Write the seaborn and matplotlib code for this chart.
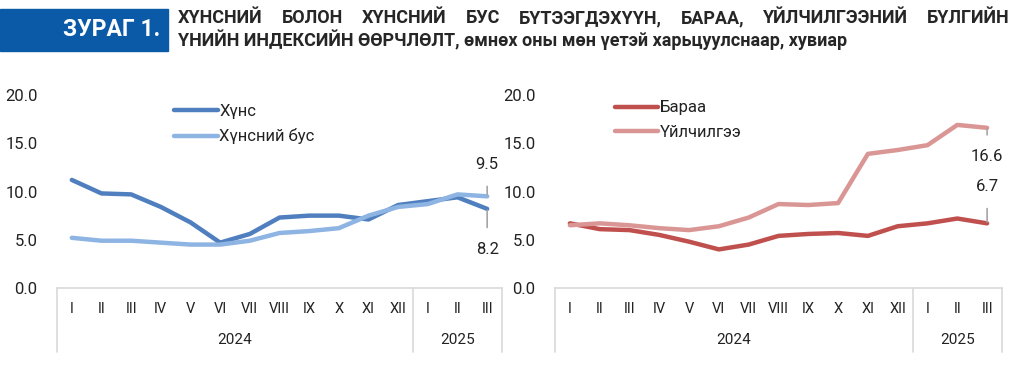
import pandas as pd
import matplotlib
matplotlib.use('Agg')
import matplotlib.pyplot as plt
import matplotlib.patches as patches
import seaborn as sns

months = ['I', 'II', 'III', 'IV', 'V', 'VI', 'VII', 'VIII', 'IX', 'X', 'XI', 'XII', 'I', 'II', 'III']
years = ['2024', '2025']
year_counts = [12, 3]

food = [11.2, 9.8, 9.7, 8.4, 6.8, 4.7, 5.6, 7.3, 7.5, 7.5, 7.1, 8.6, 9.0, 9.4, 8.2]
nonfood = [5.2, 4.9, 4.9, 4.7, 4.5, 4.5, 4.9, 5.7, 5.9, 6.2, 7.5, 8.4, 8.7, 9.7, 9.5]
goods = [6.7, 6.1, 6.0, 5.5, 4.8, 4.0, 4.5, 5.4, 5.6, 5.7, 5.4, 6.4, 6.7, 7.2, 6.7]
services = [6.5, 6.7, 6.5, 6.2, 6.0, 6.4, 7.3, 8.7, 8.6, 8.8, 13.9, 14.3, 14.8, 16.9, 16.6]

left_names = ['Хүнс', 'Хүнсний бус']
right_names = ['Бараа', 'Үйлчилгээ']
left_colors = ['#4f7fbe', '#8db4e2']
right_colors = ['#c0504d', '#da9694']

title_words = ['ХҮНСНИЙ', 'БОЛОН', 'ХҮНСНИЙ', 'БУС', 'БҮТЭЭГДЭХҮҮН,', 'БАРАА,',
               'ҮЙЛЧИЛГЭЭНИЙ', 'БҮЛГИЙН']
title_line2 = 'ҮНИЙН ИНДЕКСИЙН ӨӨРЧЛӨЛТ, өмнөх оны мөн үетэй харьцуулснаар, хувиар'

sns.set_style('white')
plt.rcParams['font.family'] = ['Roboto', 'DejaVu Sans']

fig = plt.figure(figsize=(10.25, 3.82), dpi=100)

# header banner
fig.patches.append(patches.Rectangle((0, 1 - 51 / 382), 168 / 1025, 42 / 382,
                                     transform=fig.transFigure, color='#0b5aa8'))
fig.text(160 / 1025, 1 - 29 / 382, 'ЗУРАГ 1.', color='white', fontsize=16.5, fontweight='bold',
         ha='right', va='center')

# justified first title line: place words evenly between x0 and x1
renderer = fig.canvas.get_renderer()
x0, x1 = 178, 1010
word_texts = [fig.text(0, 1 - 18 / 382, w, fontsize=13, fontweight='bold', ha='left', va='center')
              for w in title_words]
widths = [t.get_window_extent(renderer).width for t in word_texts]
gap = (x1 - x0 - sum(widths)) / (len(title_words) - 1)
pos = x0
for t, w in zip(word_texts, widths):
    t.set_x(pos / 1025)
    pos += w + gap
fig.text(x0 / 1025, 1 - 40 / 382, title_line2, fontsize=13, fontweight='bold',
         ha='left', va='center')


def draw_panel(ax, series, names, colors, labels):
    x = list(range(len(months)))
    for vals, name, col in zip(series, names, colors):
        d = pd.DataFrame({'x': x, 'y': vals})
        sns.lineplot(data=d, x='x', y='y', ax=ax, color=col, linewidth=3.2, label=name)
    ax.set_xlim(-0.5, len(months) - 0.5)
    ax.set_ylim(0, 20)
    ax.set_yticks([0, 5, 10, 15, 20])
    ax.set_yticklabels(['0.0', '5.0', '10.0', '15.0', '20.0'], fontsize=12, color='#222222')
    ax.tick_params(axis='y', length=0, pad=14)
    ax.set_xticks([])
    ax.set_xlabel('')
    ax.set_ylabel('')
    for s in ['top', 'right', 'left']:
        ax.spines[s].set_visible(False)
    ax.spines['bottom'].set_color('#d9d9d9')
    ax.spines['bottom'].set_linewidth(1.2)
    tr = ax.get_xaxis_transform()
    for i, m in enumerate(months):
        ax.text(i, -0.11, m, transform=tr, ha='center', va='center', fontsize=10.5,
                color='#222222')
    start = -0.5
    ax.plot([start, start], [0, -0.33], transform=tr, color='#d9d9d9', lw=1.2, clip_on=False)
    for yr, n in zip(years, year_counts):
        ax.text(start + n / 2, -0.27, yr, transform=tr, ha='center', va='center',
                fontsize=11, color='#222222')
        start += n
        ax.plot([start, start], [0, -0.33], transform=tr, color='#d9d9d9', lw=1.2, clip_on=False)
    for idx, val, dy in labels:
        last = len(months) - 1
        y0 = series[idx][-1]
        ax.annotate(f'{val:.1f}', xy=(last, y0), xytext=(last, y0 + dy),
                    ha='center', va='center', fontsize=12, color='#222222',
                    arrowprops=dict(arrowstyle='-', color='#a6a6a6', lw=1.2, shrinkA=8, shrinkB=1))
    leg = ax.legend(loc='upper left', bbox_to_anchor=(0.23, 1.03), frameon=False, fontsize=12,
                    handlelength=2.6, handletextpad=0.1, labelspacing=0.55)
    for t in leg.get_texts():
        t.set_color('#222222')


ax1 = fig.add_axes([57 / 1025, (382 - 288) / 382, 445 / 1025, 193 / 382])
draw_panel(ax1, [food, nonfood], left_names, left_colors, [(1, 9.5, 3.3), (0, 8.2, -4.2)])

ax2 = fig.add_axes([555 / 1025, (382 - 288) / 382, 447 / 1025, 193 / 382])
draw_panel(ax2, [goods, services], right_names, right_colors, [(1, 16.6, -3.0), (0, 6.7, 3.8)])
ax2.get_legend().set_bbox_to_anchor((0.10, 1.05))

fig.savefig('out.png', dpi=100)
